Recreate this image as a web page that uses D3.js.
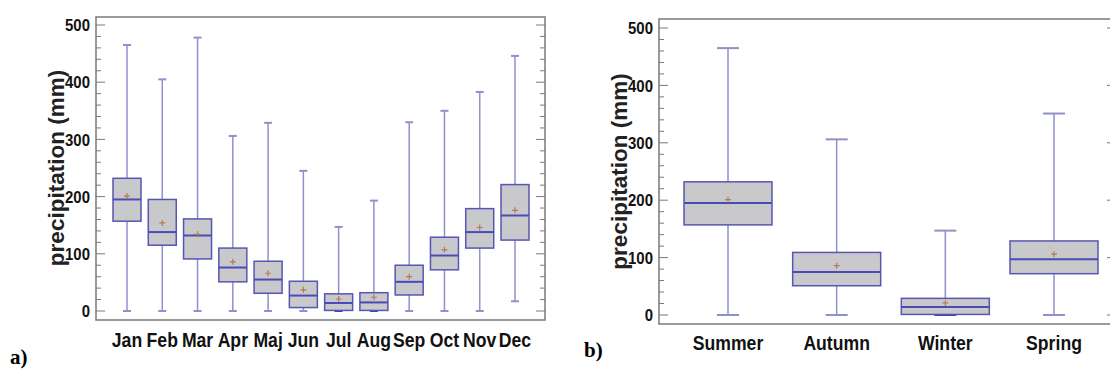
<!DOCTYPE html>
<html>
<head>
<meta charset="utf-8">
<script src="https://cdn.jsdelivr.net/npm/d3@7"></script>
<style>
  body { margin: 0; background: #fff; }
  svg { display: block; }
  .tick-label { font-family: "Liberation Sans", Arial, sans-serif; font-weight: bold; }
</style>
</head>
<body>
<svg id="chart" width="1110" height="370"></svg>
<script>
// monthly precipitation box plots (a)
const months = ["Jan", "Feb", "Mar", "Apr", "Maj", "Jun", "Jul", "Aug", "Sep", "Oct", "Nov", "Dec"];
const monthMin    = [0, 0, 0, 0, 0, 0, 0, 0, 0, 0, 0, 17];
const monthQ1     = [157, 115, 91, 51, 31, 6, 1, 1, 28, 72, 110, 124];
const monthMedian = [195, 138, 132, 76, 55, 27, 14, 15, 51, 97, 138, 167];
const monthQ3     = [232, 195, 161, 110, 87, 52, 30, 32, 80, 129, 179, 221];
const monthMax    = [465, 405, 478, 306, 329, 245, 147, 193, 330, 350, 383, 446];
const monthMean   = [201, 154, 134, 86, 66, 37, 21, 24, 60, 107, 146, 176];

// seasonal box plots (b)
const seasons = ["Summer", "Autumn", "Winter", "Spring"];
const seasonMin    = [0, 0, 0, 0];
const seasonQ1     = [157, 51, 1, 72];
const seasonMedian = [195, 75, 14, 97];
const seasonQ3     = [232, 109, 29, 129];
const seasonMax    = [465, 306, 147, 351];
const seasonMean   = [201, 86, 21, 106];

const yTicksMajor = [0, 100, 200, 300, 400, 500];

const svg = d3.select("#chart");

function makePanel(cfg) {
    let data = cfg.cats.map((c, i) => ({
        cat: c, min: cfg.min[i], q1: cfg.q1[i], med: cfg.med[i],
        q3: cfg.q3[i], max: cfg.max[i], mean: cfg.mean[i]
    }));

    let y = d3.scaleLinear().domain([0, 500]).range([cfg.y0, cfg.y500]);
    let x = d3.scalePoint().domain(cfg.cats).range([cfg.xFirst, cfg.xLast]);

    let g = svg.append("g");

    // frame
    g.append("rect")
        .attr("x", cfg.left).attr("y", cfg.top)
        .attr("width", cfg.right - cfg.left).attr("height", cfg.bottom - cfg.top)
        .attr("fill", "none").attr("stroke", "#7a7a7a").attr("stroke-width", 1.5);

    // y ticks (major + minor), inward, both sides
    let minor = d3.range(0, 501, 20);
    [[cfg.left, 1], [cfg.right, -1]].forEach(([x0, dir]) => {
        g.append("g").selectAll("line")
            .data(minor)
            .enter().append("line")
            .attr("x1", x0)
            .attr("x2", d => x0 + dir * (d % 100 === 0 ? 9 : 5))
            .attr("y1", d => y(d)).attr("y2", d => y(d))
            .attr("stroke", "#7a7a7a").attr("stroke-width", 1);
    });

    // tick labels, squeezed to look like a narrow font
    g.append("g").selectAll("text")
        .data(yTicksMajor)
        .enter().append("text")
        .attr("class", "tick-label")
        .attr("transform", d => `translate(${cfg.left - 6},${y(d)}) scale(0.88,1)`)
        .attr("dy", "0.36em")
        .attr("text-anchor", "end")
        .attr("font-size", "17px")
        .attr("fill", "#111")
        .text(d => d);

    // y label
    g.append("text")
        .attr("transform", `translate(${cfg.titleX},${(cfg.y0 + cfg.y500) / 2}) rotate(-90)`)
        .attr("text-anchor", "middle")
        .attr("dy", "0.32em")
        .style("font-family", "'Liberation Sans', Arial, sans-serif")
        .style("font-weight", "bold")
        .style("font-size", "22.5px")
        .style("fill", "#222")
        .text("precipitation (mm)");

    // x labels
    g.append("g").selectAll("text")
        .data(cfg.cats)
        .enter().append("text")
        .attr("class", "tick-label")
        .attr("transform", d => `translate(${x(d)},${cfg.labelY}) scale(0.86,1)`)
        .attr("text-anchor", "middle")
        .attr("font-size", "20.5px")
        .attr("fill", "#111")
        .text(d => d);

    let whisk = "#9090cc";
    let boxStroke = "#5656b4";
    let bw = cfg.boxW, cw = cfg.capW;

    let box = g.selectAll(".box")
        .data(data)
        .enter().append("g")
        .attr("class", "box");

    // whiskers
    box.append("line")
        .attr("x1", d => x(d.cat)).attr("x2", d => x(d.cat))
        .attr("y1", d => y(d.max)).attr("y2", d => y(d.q3))
        .attr("stroke", whisk).attr("stroke-width", 1.5);
    box.append("line")
        .attr("x1", d => x(d.cat)).attr("x2", d => x(d.cat))
        .attr("y1", d => y(d.q1)).attr("y2", d => y(d.min))
        .attr("stroke", whisk).attr("stroke-width", 1.5);
    // caps
    box.append("line")
        .attr("x1", d => x(d.cat) - cw / 2).attr("x2", d => x(d.cat) + cw / 2)
        .attr("y1", d => y(d.max)).attr("y2", d => y(d.max))
        .attr("stroke", whisk).attr("stroke-width", 2);
    box.append("line")
        .attr("x1", d => x(d.cat) - cw / 2).attr("x2", d => x(d.cat) + cw / 2)
        .attr("y1", d => y(d.min)).attr("y2", d => y(d.min))
        .attr("stroke", d => d.q1 < 3 ? "#3c3cc0" : whisk).attr("stroke-width", 2);

    // box
    box.append("rect")
        .attr("x", d => x(d.cat) - bw / 2)
        .attr("y", d => y(d.q3))
        .attr("width", bw)
        .attr("height", d => y(d.q1) - y(d.q3))
        .attr("fill", "#c9c9cb")
        .attr("stroke", boxStroke).attr("stroke-width", 1.5);

    // median
    box.append("line")
        .attr("x1", d => x(d.cat) - bw / 2).attr("x2", d => x(d.cat) + bw / 2)
        .attr("y1", d => y(d.med)).attr("y2", d => y(d.med))
        .attr("stroke", "#4a4ab8").attr("stroke-width", 2);

    // mean marker
    box.append("path")
        .attr("d", d => {
            let cx = x(d.cat), cy = y(d.mean);
            return `M${cx - 3},${cy}H${cx + 3}M${cx},${cy - 3}V${cy + 3}`;
        })
        .attr("stroke", "#b07c55").attr("stroke-width", 1.2).attr("fill", "none");
}

makePanel({
    cats: months, min: monthMin, q1: monthQ1, med: monthMedian, q3: monthQ3, max: monthMax, mean: monthMean,
    left: 96, right: 545, top: 17, bottom: 320,
    y0: 311, y500: 25, xFirst: 127, xLast: 515,
    boxW: 28, capW: 8, titleX: 57, labelY: 347
});

makePanel({
    cats: seasons, min: seasonMin, q1: seasonQ1, med: seasonMedian, q3: seasonQ3, max: seasonMax, mean: seasonMean,
    left: 659, right: 1116, top: 19, bottom: 324,
    y0: 315, y500: 28, xFirst: 728, xLast: 1054,
    boxW: 88, capW: 22, titleX: 620, labelY: 350
});

// panel letters
svg.append("text").attr("x", 10).attr("y", 364)
    .style("font-family", "'Liberation Serif', 'Times New Roman', serif")
    .style("font-weight", "bold").style("font-size", "21px").text("a)");
svg.append("text").attr("x", 584).attr("y", 357)
    .style("font-family", "'Liberation Serif', 'Times New Roman', serif")
    .style("font-weight", "bold").style("font-size", "21px").text("b)");
</script>
</body>
</html>
